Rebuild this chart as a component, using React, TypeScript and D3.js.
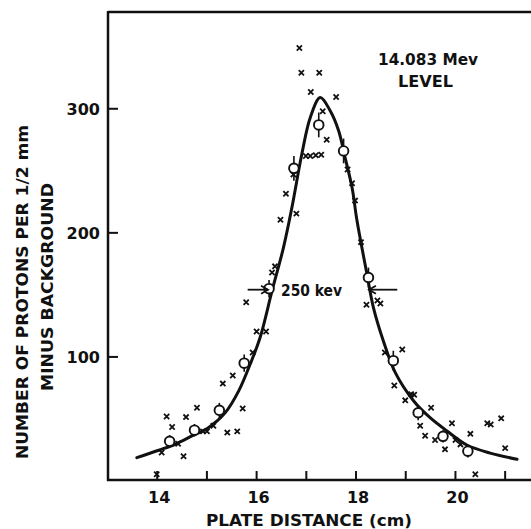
import React from "react";
import * as d3 from "d3";

// Open circles (averaged data) with error bars
const circleX = [14.25, 14.75, 15.25, 15.75, 16.25, 16.75, 17.25, 17.75, 18.25, 18.75, 19.25, 19.75, 20.25];
const circleV = [32, 41, 57, 95, 155, 252, 287, 266, 164, 97, 55, 36, 24];
const circleErr = [5, 5, 6, 7, 7, 10, 10, 10, 8, 8, 6, 5, 5];

// Individual counts (crosses)
const crossX = [
  14.09, 14.19, 14.30, 14.42, 14.53, 14.58, 14.80, 14.92, 15.00, 15.13, 15.32, 15.52, 15.72, 15.41, 15.61,
  15.92, 16.00, 16.19, 15.79, 16.31, 16.37, 16.48, 16.80, 16.59, 16.74, 16.99, 17.08, 17.19, 17.30,
  16.86, 16.90, 17.26, 17.09, 17.60, 17.33, 17.41, 17.83, 17.92, 17.98, 18.10, 18.21, 18.43, 18.49,
  18.58, 18.93, 18.77, 18.99, 19.11, 19.17, 19.51, 19.29, 19.39, 19.59, 19.79, 19.93, 20.00, 20.10,
  20.30, 20.64, 20.71, 20.92, 21.00, 20.40, 13.99,
];
const crossV = [
  23, 52, 43.5, 30, 20, 51.5, 59, 40, 40, 44.5, 78.5, 85, 58.5, 39, 40,
  103.5, 120.5, 120.5, 144, 168, 173, 210.5, 215.5, 231.5, 247, 262, 262, 262.5, 263,
  349, 329, 329, 313.5, 309.5, 298, 275, 251, 240, 226, 192.5, 142, 145.5, 143,
  103.5, 106, 77, 65, 70, 69.5, 59, 44.5, 36.5, 33, 25.5, 46.5, 33, 29.5,
  38, 46.5, 45.5, 50.5, 26.5, 5.5, 5.5,
];

// Fitted curve
const curveX = [13.59, 14.03, 14.36, 14.70, 15.03, 15.37, 15.64, 15.87, 16.07, 16.31, 16.54, 16.71, 16.91, 17.08, 17.28,
  17.48, 17.65, 17.78, 17.92, 18.02, 18.22, 18.35, 18.55, 18.79, 19.16, 19.49, 19.83, 20.23, 20.70, 21.24];
const curveV = [18.8, 24.8, 29.6, 36.3, 43, 55.1, 72.6, 94.1, 115.6, 153.2, 188.1, 220.4, 263.5, 293, 309,
  298.4, 282.3, 260.7, 236.5, 209.7, 166.7, 139.8, 112.9, 87.3, 64.5, 51, 40.3, 29, 22.5, 17.5];

const xTicks = [14, 15, 16, 17, 18, 19, 20, 21];
const xTickLabels = [14, 16, 18, 20];
const yTicks = [100, 200, 300];

const W = 531;
const H = 529;
const FONT = "'DejaVu Sans', sans-serif";

export default function App() {
  const x = d3.scaleLinear().domain([13, 21.5]).range([107.5, 530]);
  const y = d3.scaleLinear().domain([0, 378]).range([481, 12]);
  const left = 108;
  const bottom = 480;
  const top = 12;

  const curve = d3
    .line<number>()
    .x((_, i) => x(curveX[i]))
    .y((d) => y(d))
    .curve(d3.curveCatmullRom.alpha(0.5));

  const halfV = 155;
  const ly = y(halfV) + 1;
  const la0 = x(15.82), la1 = x(16.23);
  const ra0 = x(18.83), ra1 = x(18.26);

  return (
    <svg width={W} height={H} style={{ position: "absolute", left: 0, top: 0, background: "#fff" }}>
      <rect x={0} y={0} width={W} height={H} fill="#fff" />
      {/* frame */}
      <line x1={left} y1={top} x2={W} y2={top} stroke="#111" strokeWidth={2.5} />
      <line x1={left} y1={top - 1} x2={left} y2={bottom + 1} stroke="#111" strokeWidth={2.5} />
      <line x1={left - 1} y1={bottom} x2={W} y2={bottom} stroke="#111" strokeWidth={2.5} />
      {/* y ticks */}
      {yTicks.map((t) => (
        <g key={"yt" + t}>
          <line x1={left} x2={left + 10} y1={y(t)} y2={y(t)} stroke="#111" strokeWidth={2} />
          <text x={100} y={y(t) + 6} textAnchor="end" fontFamily={FONT} fontWeight="bold" fontSize={16} fill="#111">
            {t}
          </text>
        </g>
      ))}
      {/* x ticks */}
      {xTicks.map((t) => (
        <line key={"xt" + t} x1={x(t)} x2={x(t)} y1={bottom} y2={bottom - 9} stroke="#111" strokeWidth={2} />
      ))}
      {xTickLabels.map((t) => (
        <text key={"xl" + t} x={x(t) + 2} y={503} textAnchor="middle" fontFamily={FONT} fontWeight="bold" fontSize={16} fill="#111">
          {t}
        </text>
      ))}
      <text x={309} y={526} textAnchor="middle" fontFamily={FONT} fontWeight="bold" fontSize={15.5} fill="#111"
        textLength={206} lengthAdjust="spacingAndGlyphs">
        PLATE DISTANCE (cm)
      </text>
      <text transform={`translate(28,${292}) rotate(-90)`} textAnchor="middle" fontFamily={FONT} fontWeight="bold"
        fontSize={15.5} fill="#111" textLength={334} lengthAdjust="spacingAndGlyphs">
        NUMBER OF PROTONS PER 1/2 mm
      </text>
      <text transform={`translate(53,${287}) rotate(-90)`} textAnchor="middle" fontFamily={FONT} fontWeight="bold"
        fontSize={15.5} fill="#111" textLength={208} lengthAdjust="spacingAndGlyphs">
        MINUS BACKGROUND
      </text>

      {/* curve */}
      <path d={curve(curveV) || ""} fill="none" stroke="#111" strokeWidth={3} strokeLinejoin="round" strokeLinecap="round" />

      {/* crosses */}
      {crossV.map((v, i) => {
        const cx = x(crossX[i]);
        const cy = y(v);
        const s = 2.6;
        return (
          <path key={"c" + i} d={`M${cx - s},${cy - s}L${cx + s},${cy + s}M${cx + s},${cy - s}L${cx - s},${cy + s}`}
            stroke="#111" strokeWidth={1.8} />
        );
      })}

      {/* circles with error bars */}
      {circleV.map((v, i) => {
        const cx = x(circleX[i]);
        return (
          <g key={"o" + i}>
            <line x1={cx} x2={cx} y1={y(v + circleErr[i])} y2={y(v - circleErr[i])} stroke="#111" strokeWidth={1.6} />
            <circle cx={cx} cy={y(v)} r={4.8} fill="#fff" stroke="#111" strokeWidth={1.9} />
          </g>
        );
      })}

      {/* annotations */}
      <text x={378} y={65} fontFamily={FONT} fontWeight="bold" fontSize={16} fill="#111" textLength={100} lengthAdjust="spacingAndGlyphs">
        14.083 Mev
      </text>
      <text x={398} y={87} fontFamily={FONT} fontWeight="bold" fontSize={16} fill="#111" textLength={55} lengthAdjust="spacingAndGlyphs">
        LEVEL
      </text>
      <text x={281} y={296} fontFamily={FONT} fontWeight="bold" fontSize={16} fill="#111" textLength={61} lengthAdjust="spacingAndGlyphs">
        250 kev
      </text>
      <g stroke="#111" strokeWidth={1.8} fill="none">
        <line x1={la0} x2={la1} y1={ly} y2={ly} />
        <path d={`M${la1 - 7},${ly - 4}L${la1},${ly}L${la1 - 7},${ly + 4}`} />
        <line x1={ra0} x2={ra1} y1={ly} y2={ly} />
        <path d={`M${ra1 + 7},${ly - 4}L${ra1},${ly}L${ra1 + 7},${ly + 4}`} />
      </g>
    </svg>
  );
}
